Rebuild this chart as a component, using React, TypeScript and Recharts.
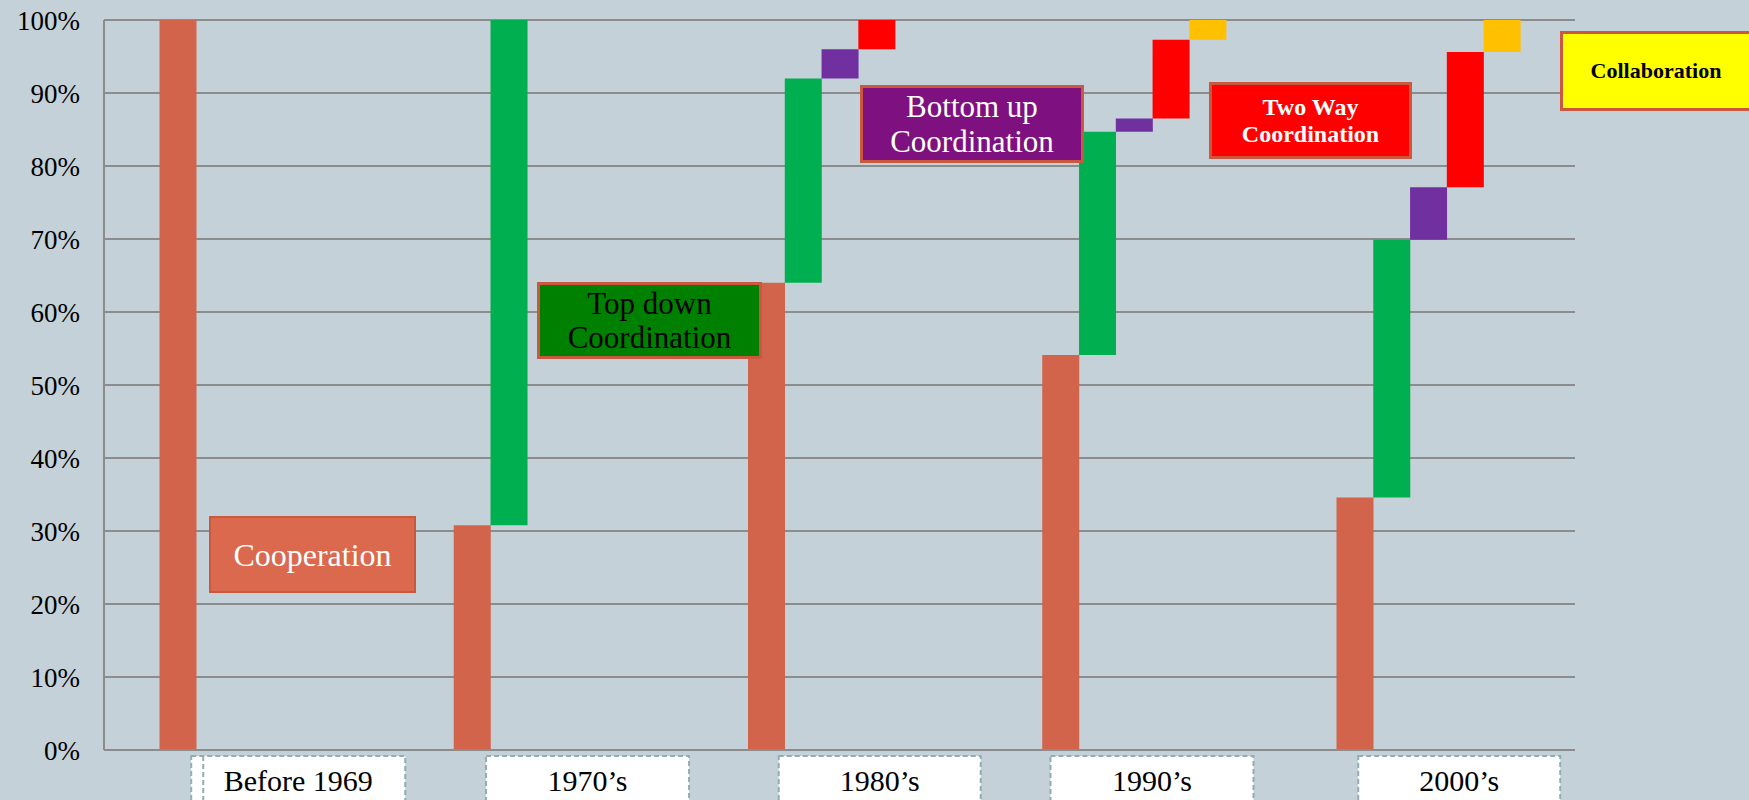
import React from 'react';
import { BarChart, Bar, XAxis, YAxis, CartesianGrid, Cell } from 'recharts';

// ---------- data ----------
const eras = ['Before 1969', '1970\u2019s', '1980\u2019s', '1990\u2019s', '2000\u2019s'];
const stages = ['Cooperation', 'Top down Coordination', 'Bottom up Coordination', 'Two Way Coordination', 'Collaboration'];
// share (%) of each stage within each era
const cooperationShare = [100, 30.8, 64.0, 54.1, 34.6];
const topDownShare = [0, 69.2, 28.0, 30.6, 35.3];
const bottomUpShare = [0, 0, 4.0, 1.8, 7.2];
const twoWayShare = [0, 0, 4.0, 10.8, 18.5];
const collaborationShare = [0, 0, 0, 2.7, 4.4];
const yTicks = [0, 10, 20, 30, 40, 50, 60, 70, 80, 90, 100];

// ---------- styles / layout ----------
const stageColors = ['#D1644A', '#00B050', '#7030A0', '#FF0000', '#FFC000'];
const BG = '#C5D1D8';
const GRID = '#8C8C8C';
const FONT = '"Liberation Serif", "Times New Roman", serif';
const SLOTS_PER_ERA = 8;
const LABEL_SLOT = 3;
const eraLabelNudge = [10, 5, 3, -19, -6];
const eraLabelWidth = [214, 203, 202, 203, 202];

const shareByStage = [cooperationShare, topDownShare, bottomUpShare, twoWayShare, collaborationShare];

type Slot = { slot: string; range: [number, number] | null; stage: number; era: number; pos: number };

const slots: Slot[] = [];
eras.forEach((_, e) => {
  let cum = 0;
  for (let p = 0; p < SLOTS_PER_ERA; p++) {
    const stage = p < stages.length ? p : -1;
    let range: [number, number] | null = null;
    if (stage >= 0) {
      const v = shareByStage[stage][e];
      if (v > 0) {
        range = [cum, cum + v];
        cum += v;
      }
    }
    slots.push({ slot: `s${e * SLOTS_PER_ERA + p}`, range, stage, era: e, pos: p });
  }
});
// drop trailing empty slots
while (slots.length && slots[slots.length - 1].range === null) slots.pop();

const EraTick = (props: any) => {
  const { x, y, payload } = props;
  const idx = slots.findIndex((s) => s.slot === payload.value);
  if (idx < 0) return null;
  const s = slots[idx];
  if (s.pos !== LABEL_SLOT) return null;
  const w = eraLabelWidth[s.era];
  const cx = x + eraLabelNudge[s.era];
  return (
    <g>
      <rect
        x={cx - w / 2}
        y={y + 6}
        width={w}
        height={48}
        fill="#FFFFFF"
        stroke="#91AEB3"
        strokeWidth={2}
        strokeDasharray="5 3"
      />
      {s.era === 0 && (
        <line x1={cx - w / 2 + 12} x2={cx - w / 2 + 12} y1={y + 6} y2={y + 54} stroke="#91AEB3" strokeWidth={2} strokeDasharray="5 3" />
      )}
      <text
        x={cx}
        y={y + 30}
        textAnchor="middle"
        dominantBaseline="central"
        fontFamily={FONT}
        fontSize={30}
        fill="#000"
      >
        {eras[s.era]}
      </text>
    </g>
  );
};

type Note = {
  text: string[];
  left: number;
  top: number;
  width: number;
  height: number;
  fill: string;
  border: string;
  borderWidth: number;
  color: string;
  size: number;
  bold?: boolean;
  lineHeight: number;
};

const notes: Note[] = [
  { text: [stages[0]], left: 209, top: 516, width: 207, height: 77, fill: '#DA694E', border: '#C9583F', borderWidth: 2, color: '#FFFFFF', size: 32, lineHeight: 34 },
  { text: ['Top down', 'Coordination'], left: 537, top: 282, width: 225, height: 77, fill: '#008000', border: '#C9583F', borderWidth: 3, color: '#000000', size: 31, lineHeight: 34 },
  { text: ['Bottom up', 'Coordination'], left: 860, top: 85, width: 224, height: 78, fill: '#7F1080', border: '#C9583F', borderWidth: 3, color: '#FFFFFF', size: 31, lineHeight: 35 },
  { text: ['Two Way', 'Coordination'], left: 1209, top: 82, width: 203, height: 77, fill: '#FF0000', border: '#C9583F', borderWidth: 3, color: '#FFFFFF', size: 24, bold: true, lineHeight: 27 },
  { text: [stages[4]], left: 1560, top: 31, width: 192, height: 80, fill: '#FFFF00', border: '#C9583F', borderWidth: 3, color: '#000000', size: 22, bold: true, lineHeight: 24 },
];

export default function App() {
  return (
    <div
      style={{
        position: 'absolute',
        left: 0,
        top: 0,
        width: 1749,
        height: 800,
        background: BG,
        overflow: 'hidden',
        fontFamily: FONT,
      }}
    >
      <BarChart
        width={1749}
        height={800}
        data={slots}
        margin={{ top: 20, right: 174, bottom: 0, left: 24 }}
        barCategoryGap={0}
        barGap={0}
      >
        <CartesianGrid vertical={false} stroke={GRID} strokeWidth={2} />
        <YAxis
          width={80}
          domain={[0, 100]}
          ticks={yTicks}
          interval={0}
          tickFormatter={(v: number) => `${v}%`}
          tickLine={false}
          tickSize={0}
          tickMargin={24}
          axisLine={{ stroke: GRID, strokeWidth: 2 }}
          tick={{ fontSize: 27, fill: '#000', fontFamily: FONT }}
        />
        <XAxis
          dataKey="slot"
          type="category"
          height={50}
          interval={0}
          padding={{ left: 55.5, right: 54.6 }}
          tickLine={false}
          tickSize={0}
          tickMargin={0}
          axisLine={{ stroke: GRID, strokeWidth: 2 }}
          tick={(p: any) => <EraTick {...p} />}
        />
        <Bar dataKey="range" isAnimationActive={false}>
          {slots.map((s, i) => (
            <Cell key={i} fill={s.stage >= 0 ? stageColors[s.stage] : 'transparent'} />
          ))}
        </Bar>
      </BarChart>
      {notes.map((n, i) => (
        <div
          key={i}
          style={{
            position: 'absolute',
            left: n.left,
            top: n.top,
            width: n.width,
            height: n.height,
            boxSizing: 'border-box',
            background: n.fill,
            border: `${n.borderWidth}px solid ${n.border}`,
            color: n.color,
            fontSize: n.size,
            fontWeight: n.bold ? 700 : 400,
            lineHeight: `${n.lineHeight}px`,
            fontFamily: FONT,
            display: 'flex',
            flexDirection: 'column',
            alignItems: 'center',
            justifyContent: 'center',
            textAlign: 'center',
          }}
        >
          {n.text.map((t, j) => (
            <div key={j}>{t}</div>
          ))}
        </div>
      ))}
    </div>
  );
}
